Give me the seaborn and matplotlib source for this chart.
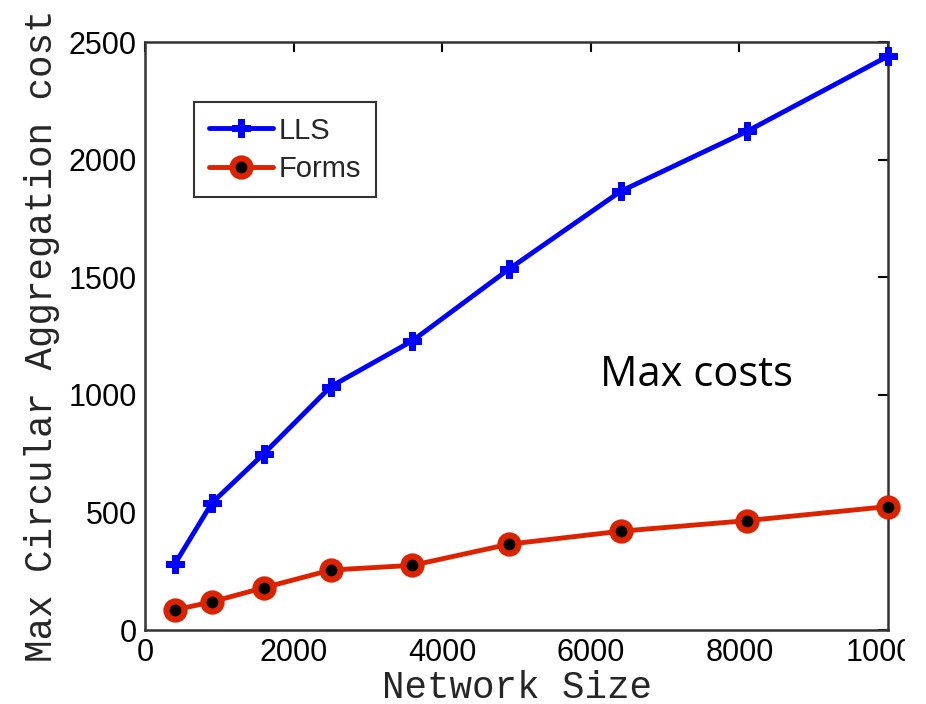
import pandas as pd
import numpy as np
import matplotlib
matplotlib.use("Agg")
import matplotlib.pyplot as plt
import seaborn as sns
from matplotlib.patches import Rectangle

network_size = [400, 900, 1600, 2500, 3600, 4900, 6400, 8100, 10000]
lls_cost = [280, 540, 750, 1035, 1230, 1535, 1865, 2120, 2440]
forms_cost = [85, 120, 180, 255, 275, 365, 420, 465, 525]
x_ticks = [0, 2000, 4000, 6000, 8000, 10000]
y_ticks = [0, 500, 1000, 1500, 2000, 2500]

lls = pd.DataFrame({'size': network_size, 'cost': lls_cost})
forms = pd.DataFrame({'size': network_size, 'cost': forms_cost})

sns.set_style("white")
plt.rcParams['font.family'] = ['Liberation Sans', 'DejaVu Sans']

fig = plt.figure(figsize=(9.26, 7.04), dpi=100)
ax = fig.add_axes([0.1566, 0.1051, 0.8024, 0.8352])

sns.lineplot(data=lls, x='size', y='cost', ax=ax, color='#0000ff', lw=3.5,
             marker='P', ms=13, mec='#0000ff', mfc='#0000ff', label='LLS',
             clip_on=False, zorder=3)
sns.lineplot(data=forms, x='size', y='cost', ax=ax, color='#dd2200', lw=3.5,
             marker='o', ms=13, mec='#dd2200', mfc='black', mew=4.5, label='Forms',
             clip_on=False, zorder=3)

ax.set_xlim(0, 10000)
ax.set_ylim(0, 2500)
ax.set_xticks(x_ticks)
ax.set_yticks(y_ticks)
ax.tick_params(direction='in', length=7, width=1.5, labelsize=22, colors='black',
               top=True, right=True, pad=6)
for s in ax.spines.values():
    s.set_color('#333333')
    s.set_linewidth(1.8)

ax.set_xlabel('Network Size', family=['Liberation Mono'], fontsize=27, labelpad=1)
ax.set_ylabel('Max Circular Aggregation cost', family=['Liberation Mono'], fontsize=27, labelpad=6)

ax.text(6120, 1085, 'Max costs', fontsize=30, va='center', ha='left',
        family=['Open Sans', 'Liberation Sans'], color='black')

leg = ax.legend(loc='upper left', bbox_to_anchor=(0.066, 0.898), fontsize=21,
                frameon=True, fancybox=False, handlelength=2.2, borderpad=0.5,
                borderaxespad=0, handletextpad=0.2, labelspacing=0.35)
leg.get_frame().set_edgecolor('black')
leg.get_frame().set_linewidth(1.5)

# crop on the right like the source image
fig.patches.append(Rectangle((905 / 926, 0), 1, 0.1, transform=fig.transFigure,
                             color='white', zorder=10))

fig.savefig('out.png', dpi=100)
